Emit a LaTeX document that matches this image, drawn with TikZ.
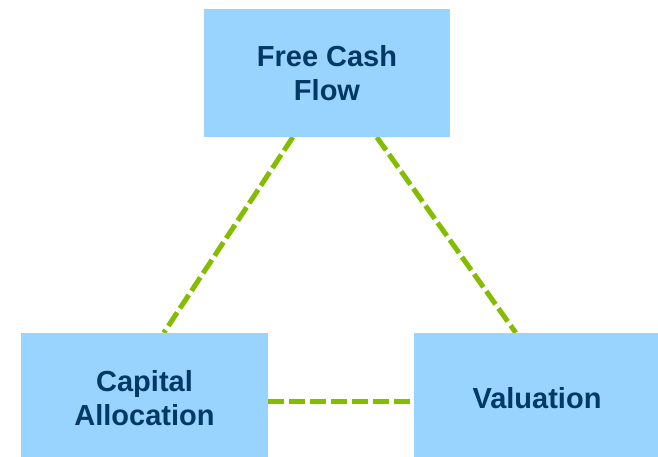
\documentclass[tikz,border=0pt]{standalone}
\usepackage{fontspec}
\setmainfont{Liberation Sans}
\usetikzlibrary{backgrounds}
\definecolor{boxblue}{HTML}{99D3FF}
\definecolor{navytext}{HTML}{003865}
\definecolor{limeline}{HTML}{84BD00}
\begin{document}
\begin{tikzpicture}[x=1pt,y=-1pt,
  box/.style={fill=boxblue, draw=none, inner sep=0pt, minimum width=246pt,
    minimum height=128pt, font=\fontsize{29}{34}\selectfont\bfseries,
    text=navytext, align=center},
  link/.style={draw=limeline, line width=5pt, dash pattern=on 16pt off 5pt}]
\useasboundingbox (0,0) rectangle (658,457);
\node[box] (fcf) at (327,73) {Free Cash\\Flow};
\node[box, minimum width=247pt, minimum height=130pt] (cap) at (144.5,398) {Capital\\Allocation};
\node[box, minimum width=246pt, minimum height=130pt] (val) at (537,398) {Valuation};
\coordinate (p1) at ([xshift=89pt]fcf.south west);
\coordinate (p2) at ([xshift=143pt]cap.north west);
\coordinate (p3) at ([xshift=173pt]fcf.south west);
\coordinate (p4) at ([xshift=102pt]val.north west);
\begin{scope}[on background layer]
\draw[link] (p1) -- (p2);
\draw[link] (p3) -- (p4);
\draw[link] ([yshift=-3pt]cap.east) -- ([yshift=-3pt]val.west);
\end{scope}
\end{tikzpicture}
\end{document}
